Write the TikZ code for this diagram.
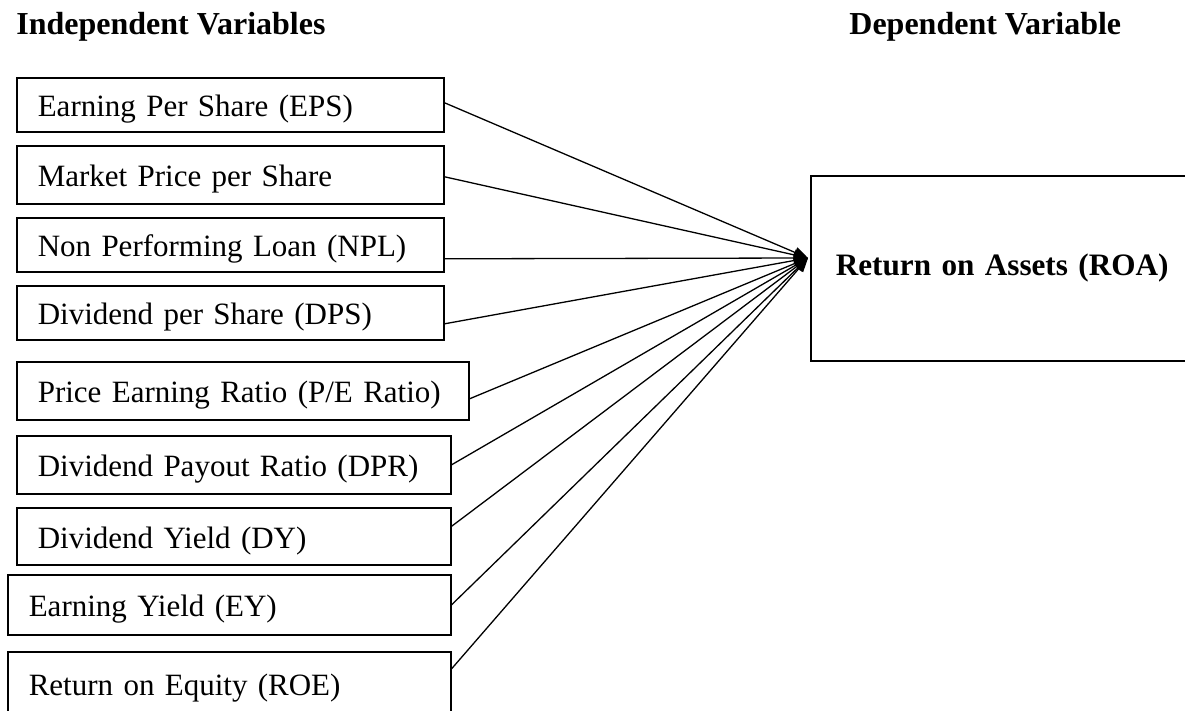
\documentclass[tikz,border=0pt]{standalone}
\usepackage{fontspec}
\setmainfont{Liberation Serif}
\usetikzlibrary{positioning,arrows.meta,calc}
\tikzset{
  flow/.style={-{Triangle[length=7pt,width=5.5pt]},line width=0.65pt,draw=black},
  varbox/.style={draw=black,line width=0.8pt,anchor=north west,inner xsep=10.5pt,
    inner ysep=0pt,align=left,text height=12pt,text depth=0pt,
    font=\fontsize{15.5}{19}\selectfont},
  resultbox/.style={draw=black,line width=0.8pt,anchor=north west,inner xsep=12.5pt,
    inner ysep=0pt,align=left,font=\fontsize{15.6}{19}\selectfont\bfseries},
  heading/.style={anchor=base west,inner sep=0pt,font=\fontsize{16}{19}\selectfont\bfseries}
}
\begin{document}
\begin{tikzpicture}[x=0.5pt,y=-0.5pt]
  \useasboundingbox (0,0) rectangle (1185,711);

  \node[heading] (indep) at (16,35) {Independent Variables};
  \node[heading] (dep) at (849,35) {Dependent Variable};

  % independent variables
  \node[varbox,text width=192.5pt,minimum height=27pt] (eps) at (16,77) {Earning Per Share (EPS)};
  \node[varbox,text width=192.5pt,minimum height=29pt] (mps) at (16,145) {Market Price per Share};
  \node[varbox,text width=192.5pt,minimum height=27pt] (npl) at (16,217) {Non Performing Loan (NPL)};
  \node[varbox,text width=192.5pt,minimum height=27pt] (dps) at (16,285) {Dividend per Share (DPS)};
  \node[varbox,text width=205pt,minimum height=29pt] (per) at (16,361) {Price Earning Ratio (P/E Ratio)};
  \node[varbox,text width=196pt,minimum height=29pt] (dpr) at (16,435) {Dividend Payout Ratio (DPR)};
  \node[varbox,text width=196pt,minimum height=28.5pt] (dy) at (16,507) {Dividend Yield (DY)};
  \node[varbox,text width=200.5pt,minimum height=30pt] (ey) at (7,574) {Earning Yield (EY)};
  \node[varbox,text width=200.5pt,minimum height=32pt] (roe) at (7,651) {Return on Equity (ROE)};

  % dependent variable
  \node[resultbox,text width=185pt,minimum height=92.5pt] (roa) at (810,175) {Return on Assets (ROA)};
  \coordinate (hub) at (808,258);

  \foreach \n/\dy in {eps/1pt,mps/-1pt,npl/-7pt,dps/-5.5pt,per/-4pt,dpr/0pt,dy/5pt,ey/0pt,roe/7.5pt}
    \draw[flow] ([yshift=\dy]\n.east) -- (hub);
\end{tikzpicture}
\end{document}
